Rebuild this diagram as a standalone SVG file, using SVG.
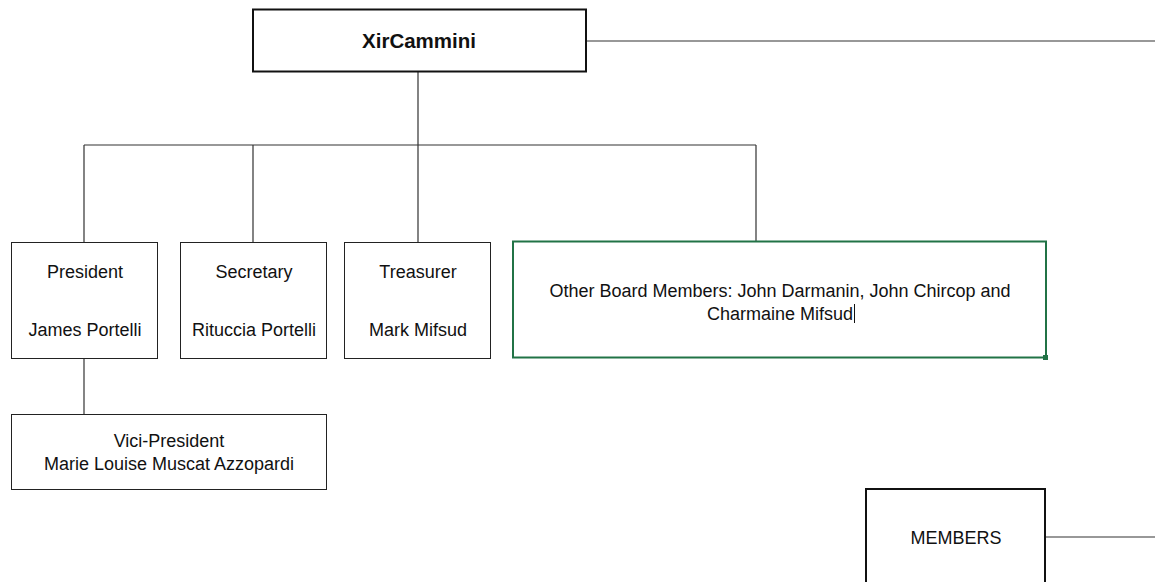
<svg xmlns="http://www.w3.org/2000/svg" width="1155" height="582" viewBox="0 0 1155 582">
<style>
.box{fill:#fff;stroke:#222;stroke-width:1}
.thick{fill:#fff;stroke:#111;stroke-width:2}
.t{font-family:"Liberation Sans",Arial,sans-serif;font-size:18px;fill:#111;text-anchor:middle}
.c{fill:none;stroke:#333;stroke-width:1.2}
</style>
<rect width="1155" height="582" fill="#fff"/>
<g id="connectors">
<path class="c" d="M587 41H1155"/>
<path class="c" d="M418 72V145M84 145H756M84 145V243M253 145V243M418 145V243M756 145V241"/>
<path class="c" d="M84 358V414"/>
<path class="c" d="M1045 537H1155"/>
</g>
<g id="xircammini">
<rect class="thick" x="253" y="9.5" width="333" height="62"/>
<text class="t" x="419" y="48" style="font-weight:bold;font-size:20.5px">XirCammini</text>
</g>
<g id="president">
<rect class="box" x="11.5" y="242.5" width="146" height="116"/>
<text class="t" x="85" y="278">President</text>
<text class="t" x="85" y="336">James Portelli</text>
</g>
<g id="secretary">
<rect class="box" x="180.5" y="242.5" width="146" height="116"/>
<text class="t" x="254" y="278">Secretary</text>
<text class="t" x="254" y="336">Rituccia Portelli</text>
</g>
<g id="treasurer">
<rect class="box" x="344.5" y="242.5" width="146" height="116"/>
<text class="t" x="418" y="278">Treasurer</text>
<text class="t" x="418" y="336">Mark Mifsud</text>
</g>
<g id="other">
<rect x="513" y="241.5" width="533" height="116" fill="#fff" stroke="#217346" stroke-width="2"/>
<rect x="1043" y="355" width="5" height="5" fill="#217346"/>
<text class="t" x="780" y="297">Other Board Members: John Darmanin, John Chircop and</text>
<text class="t" x="780" y="320">Charmaine Mifsud</text>
<path d="M854.5 304V323" stroke="#111" stroke-width="1"/>
</g>
<g id="vici">
<rect class="box" x="11.5" y="414.5" width="315" height="75"/>
<text class="t" x="169" y="447">Vici-President</text>
<text class="t" x="169" y="470">Marie Louise Muscat Azzopardi</text>
</g>
<g id="members">
<rect class="thick" x="866" y="489" width="179" height="100"/>
<text class="t" x="956" y="544">MEMBERS</text>
</g>
</svg>
